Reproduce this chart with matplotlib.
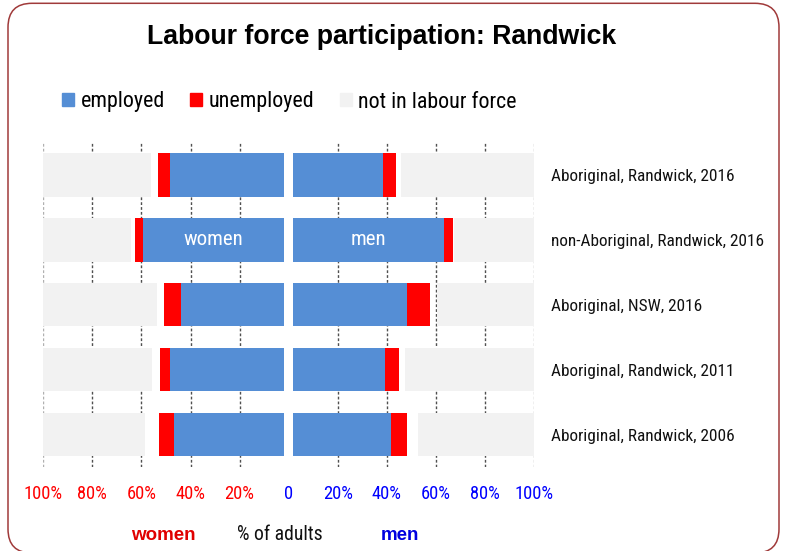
import matplotlib
matplotlib.use("Agg")
import matplotlib.pyplot as plt
from matplotlib.patches import FancyBboxPatch, Patch
from matplotlib.transforms import IdentityTransform

# ---------------- data ----------------
categories = ["Aboriginal, Randwick, 2016", "non-Aboriginal, Randwick, 2016",
              "Aboriginal, NSW, 2016", "Aboriginal, Randwick, 2011",
              "Aboriginal, Randwick, 2006"]
women_employed = [46.5, 57.7, 42.0, 46.5, 45.1]
women_unemployed = [5.2, 3.4, 7.2, 4.4, 6.2]
women_not_in_lf = [43.8, 35.7, 46.3, 44.3, 41.6]
men_employed = [36.9, 61.7, 46.6, 37.6, 40.1]
men_unemployed = [5.3, 3.7, 9.2, 5.7, 6.5]
men_not_in_lf = [54.1, 32.6, 39.7, 52.6, 47.3]
tick_values = [-100, -80, -60, -40, -20, 0, 20, 40, 60, 80, 100]
tick_labels = ["100%", "80%", "60%", "40%", "20%", "0", "20%", "40%", "60%", "80%", "100%"]
series_names = ["employed", "unemployed", "not in labour force"]

# ---------------- style ----------------
C_EMP = "#558ed5"
C_UNEMP = "#ff0000"
C_NILF = "#f2f2f2"
center_gap = 1.7
bar_h = 0.67
NARROW = "Roboto Condensed"
WIDE = "Liberation Sans"

W, H = 786, 551
fig = plt.figure(figsize=(W / 100, H / 100), dpi=100)
ax = fig.add_axes([43.3 / W, 1 - 467 / H, (534 - 43.3) / W, (467 - 142.5) / H])

y = list(range(len(categories)))

# grid lines (dashed), behind bars
for t in tick_values:
    if t == 0:
        continue
    col = "#b0b0b0" if abs(t) == 100 else "#505050"
    ax.axvline(t, color=col, lw=1.0, ls=(0, (2, 1.5)), zorder=0)

# women (left, negative)
w_left_emp = [-center_gap - e for e in women_employed]
ax.barh(y, women_employed, left=w_left_emp, height=bar_h, color=C_EMP, zorder=2)
w_left_un = [l - u for l, u in zip(w_left_emp, women_unemployed)]
ax.barh(y, women_unemployed, left=w_left_un, height=bar_h, color=C_UNEMP, zorder=2)
ax.barh(y, women_not_in_lf, left=-100, height=bar_h, color=C_NILF, zorder=2)

# men (right, positive)
ax.barh(y, men_employed, left=center_gap, height=bar_h, color=C_EMP, zorder=2)
m_left_un = [center_gap + e for e in men_employed]
ax.barh(y, men_unemployed, left=m_left_un, height=bar_h, color=C_UNEMP, zorder=2)
ax.barh(y, men_not_in_lf, left=[100 - n for n in men_not_in_lf], height=bar_h,
        color=C_NILF, zorder=2)

# in-bar labels on the second row
r = 1
ax.text(-center_gap - women_employed[r] / 2, r, "women", color="white",
        ha="center", va="center", fontsize=15.0, family=NARROW, zorder=3)
ax.text(center_gap + men_employed[r] / 2, r, "men", color="white",
        ha="center", va="center", fontsize=15.0, family=NARROW, zorder=3)

ax.set_xlim(-100, 100)
ax.set_ylim(len(categories) - 0.5, -0.5)
ax.set_xticks(tick_values)
ax.set_xticklabels(tick_labels, family=NARROW, fontsize=13.3)
for lbl, t in zip(ax.get_xticklabels(), tick_values):
    lbl.set_color("#ff0000" if t < 0 else "#0000ff")
ax.tick_params(axis="x", length=0, pad=13)
ax.yaxis.tick_right()
ax.set_yticks(y)
ax.set_yticklabels(categories, family=NARROW, fontsize=12.4, color="#111111")
ax.tick_params(axis="y", length=0, pad=12)
for s in ax.spines.values():
    s.set_visible(False)

# title
fig.text(382 / W, 1 - 37 / H, "Labour force participation: Randwick", ha="center",
         va="center", fontsize=19.2, fontweight="bold", family=WIDE)

# legend
handles = [Patch(color=C_EMP), Patch(color=C_UNEMP), Patch(color=C_NILF)]
fig.legend(handles, series_names, loc="center left",
           bbox_to_anchor=(62 / W, 1 - 102 / H), ncol=3, frameon=False,
           prop={"family": NARROW, "size": 15.8},
           handlelength=0.55, handleheight=0.55, handletextpad=0.3,
           columnspacing=1.15, borderpad=0, borderaxespad=0)

# bottom labels
fig.text(163 / W, 1 - 535 / H, "women", ha="center", va="center", color="#e00000",
         fontsize=13.5, fontweight="bold", family=WIDE)
fig.text(280 / W, 1 - 535 / H, "% of adults", ha="center", va="center", color="#111111",
         fontsize=14.2, family=NARROW)
fig.text(400 / W, 1 - 535 / H, "men", ha="center", va="center", color="#0000e0",
         fontsize=13.5, fontweight="bold", family=WIDE)

# rounded frame
frame = FancyBboxPatch((8, -2), 779 - 8, 549.7, boxstyle="round,pad=0,rounding_size=24",
                       transform=IdentityTransform(), facecolor="none",
                       edgecolor="#a03a3a", lw=1.1)
fig.patches.append(frame)

fig.savefig("out.png", dpi=100)
